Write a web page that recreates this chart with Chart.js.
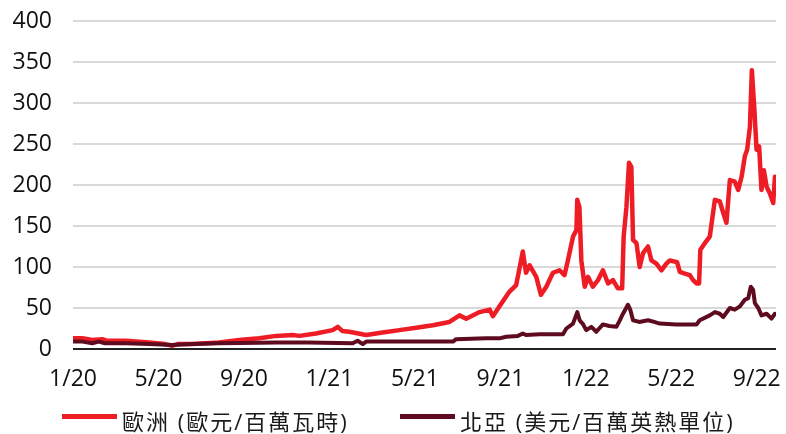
<!DOCTYPE html>
<html>
<head>
<meta charset="utf-8">
<script src="https://cdn.jsdelivr.net/npm/chart.js@4"></script>
<style>
html, body { margin: 0; padding: 0; background: #ffffff; }
#wrap { position: relative; width: 786px; height: 434px; overflow: hidden; }
#legend { position: absolute; left: 0; top: 404px; width: 786px; height: 30px;
  font-family: 'Open Sans', 'Noto Sans CJK TC', sans-serif; font-size: 22px; color: #1a1a1a; }
.item { position: absolute; top: 0; height: 30px; display: flex; align-items: flex-start; white-space: nowrap; }
.swatch { width: 55px; height: 5px; margin-top: 10px; margin-right: 5px; }
.label { line-height: 30px; padding-top: 2px; letter-spacing: 2px; }
</style>
</head>
<body>
<div id="wrap">
  <canvas id="c" width="786" height="434"></canvas>
  <div id="legend"></div>
</div>
<script>
// ---- tick labels (months since Jan 2020) ----
const tickMonths = [0, 4, 8, 12, 16, 20, 24, 28, 32];
const tickLabels = ['1/20', '5/20', '9/20', '1/21', '5/21', '9/21', '1/22', '5/22', '9/22'];

// ---- series names & colours ----
const seriesNames = ['歐洲 (歐元/百萬瓦時)', '北亞 (美元/百萬英熱單位)'];
const seriesColors = ['#EE1C25', '#5E0B1F'];

// ---- Europe (EUR/MWh): time in months since 1/20, values ----
const euroMonths = [0, 0.44, 0.9, 1.37, 1.6, 2.47, 3.56, 4.3, 4.65, 4.9, 5.59, 6.84, 7.78, 8.72, 9.5, 10.28, 10.59, 11.37, 12.15, 12.39, 12.6, 12.93, 13.72, 14.49, 15.28, 16.06, 16.84, 17.62, 18.09, 18.4, 19.03, 19.5, 19.65, 19.96, 20.43, 20.74, 20.9, 21.05, 21.2, 21.37, 21.68, 21.9, 22.15, 22.46, 22.77, 23.0, 23.16, 23.4, 23.56, 23.6, 23.7, 23.79, 23.95, 24.1, 24.33, 24.57, 24.8, 25.04, 25.27, 25.5, 25.7, 25.77, 25.9, 26.02, 26.13, 26.21, 26.37, 26.52, 26.68, 26.91, 27.07, 27.3, 27.54, 27.77, 27.93, 28.27, 28.4, 28.63, 28.87, 29.02, 29.18, 29.3, 29.36, 29.57, 29.8, 30.04, 30.27, 30.43, 30.58, 30.74, 30.97, 31.13, 31.29, 31.44, 31.55, 31.68, 31.77, 31.88, 31.99, 32.11, 32.22, 32.33, 32.46, 32.61, 32.77, 32.85];
const euroValues = [13, 13, 11, 12, 10, 10, 8, 6, 4, 6, 6, 8, 11, 13, 16, 17, 16, 19, 23, 27, 22, 21, 17, 20, 23, 26, 29, 33, 41, 37, 45, 48, 40, 52, 70, 78, 99, 119, 93, 102, 88, 66, 76, 93, 96, 90, 108, 137, 145, 182, 173, 108, 76, 88, 76, 84, 96, 80, 84, 74, 74, 137, 173, 227, 222, 133, 129, 100, 117, 125, 108, 104, 96, 104, 108, 106, 94, 92, 90, 84, 80, 80, 121, 129, 137, 182, 180, 166, 154, 206, 204, 194, 210, 235, 243, 271, 340, 296, 243, 247, 194, 218, 198, 190, 178, 210];

// ---- North Asia (USD/MMBtu) ----
const asiaMonths = [0, 0.44, 0.9, 1.2, 1.5, 2.47, 3.56, 4.65, 5.59, 6.84, 8.72, 9.5, 11, 13.09, 13.32, 13.56, 13.72, 17.78, 17.93, 19.34, 19.96, 20.27, 20.82, 21.05, 21.2, 21.84, 22.93, 23.09, 23.4, 23.6, 23.71, 23.85, 24.02, 24.26, 24.49, 24.8, 25.1, 25.43, 25.59, 25.74, 25.97, 26.08, 26.21, 26.5, 26.91, 27.2, 27.46, 28.24, 29.18, 29.33, 29.8, 30.04, 30.27, 30.43, 30.74, 30.97, 31.21, 31.44, 31.6, 31.72, 31.83, 31.91, 32.07, 32.22, 32.46, 32.69, 32.85];
const asiaValues = [9, 9, 7, 9, 7, 7, 6, 5, 6, 7, 7.5, 8, 8, 7, 10, 6, 9, 9, 12, 13, 13, 15, 16, 19, 17, 18, 18, 25, 31, 45, 35, 31, 23, 27, 21, 30, 28, 27, 35, 43, 54, 48, 35, 33, 35, 33, 31, 30, 30, 35, 41, 45, 43, 39, 50, 48, 52, 60, 62, 76, 72, 56, 50, 41, 43, 37, 43];

function toPoints(xs, ys) { return xs.map((x, i) => ({ x: x, y: ys[i] })); }

const axisFont = { family: "'Open Sans', 'Liberation Sans', sans-serif", size: 23 };

const chart = new Chart(document.getElementById('c'), {
  type: 'line',
  data: {
    datasets: [
      { label: seriesNames[0], data: toPoints(euroMonths, euroValues), borderColor: seriesColors[0], backgroundColor: seriesColors[0], borderWidth: 4.5, order: 2 },
      { label: seriesNames[1], data: toPoints(asiaMonths, asiaValues), borderColor: seriesColors[1], backgroundColor: seriesColors[1], borderWidth: 4, order: 1 }
    ]
  },
  options: {
    responsive: false,
    animation: false,
    devicePixelRatio: 1,
    layout: { padding: { top: 21, right: 10, bottom: 0, left: 0 } },
    plugins: { legend: { display: false }, tooltip: { enabled: false } },
    elements: { point: { radius: 0 }, line: { tension: 0, borderJoinStyle: 'round', borderCapStyle: 'round', fill: false } },
    scales: {
      x: {
        type: 'linear', min: 0, max: 32.9,
        afterBuildTicks: (s) => { s.ticks = tickMonths.map(v => ({ value: v })); },
        afterFit: (s) => { s.height = 85; s.paddingLeft = 0; s.paddingRight = 0; },
        ticks: { callback: (v) => tickLabels[tickMonths.indexOf(v)], font: axisFont, color: '#111', padding: 17, maxRotation: 0, autoSkip: false },
        grid: { display: false, drawTicks: false },
        border: { display: false }
      },
      y: {
        min: 0, max: 400,
        afterFit: (s) => { s.width = 73; s.paddingTop = 0; s.paddingBottom = 0; },
        ticks: { stepSize: 50, font: axisFont, color: '#111', padding: 21 },
        grid: { color: (ctx) => ctx.tick && ctx.tick.value === 0 ? '#222222' : '#d9d9d9', lineWidth: 2, drawTicks: false },
        border: { display: false }
      }
    }
  }
});

// HTML legend built from the datasets
const legendPos = [62, 400];
const legendEl = document.getElementById('legend');
chart.data.datasets.forEach((ds, i) => {
  const item = document.createElement('div');
  item.className = 'item';
  item.style.left = legendPos[i] + 'px';
  const sw = document.createElement('span');
  sw.className = 'swatch';
  sw.style.background = ds.borderColor;
  const lb = document.createElement('span');
  lb.className = 'label';
  lb.textContent = ds.label;
  item.appendChild(sw);
  item.appendChild(lb);
  legendEl.appendChild(item);
});
</script>
</body>
</html>
